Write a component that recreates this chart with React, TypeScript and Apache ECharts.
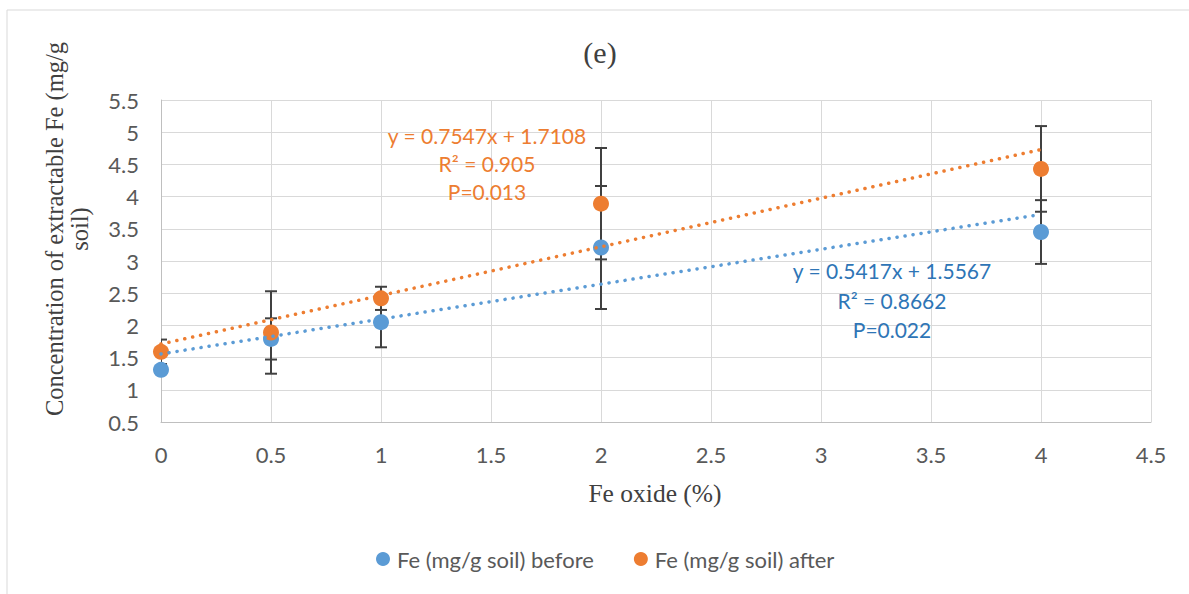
import React, { useEffect, useRef } from 'react';
import * as echarts from 'echarts';

// ---- data ----
const xValues = [0, 0.5, 1, 2, 4];
const beforeValues = [1.31, 1.79, 2.05, 3.21, 3.45];
const beforeErrors = [0.05, 0.32, 0.39, 0.955, 0.495];
const afterValues = [1.59, 1.89, 2.42, 3.89, 4.43];
const afterErrors = [0.19, 0.64, 0.18, 0.865, 0.665];
// trendline coefficients as printed on the chart
const beforeSlope = 0.5417;
const beforeIntercept = 1.5567;
const afterSlope = 0.7547;
const afterIntercept = 1.7108;
const trendRange = [0, 4];
const beforeLabel = ['y = 0.5417x + 1.5567', 'R² = 0.8662', 'P=0.022'];
const afterLabel = ['y = 0.7547x + 1.7108', 'R² = 0.905', 'P=0.013'];
const seriesNames = ['Fe (mg/g soil) before', 'Fe (mg/g soil) after'];

export default function App() {
  const ref = useRef<HTMLDivElement>(null);
  useEffect(() => {
    document.body.style.margin = '0';
    const chart = echarts.init(ref.current!, null, { renderer: 'svg' });
    const serif = '"Liberation Serif", "DejaVu Serif", serif';
    const sans = 'Lato, "Noto Sans", sans-serif';
    const blue = '#5B9BD5';
    const orange = '#ED7D31';
    const blueText = '#2E75B6';
    const grey = '#595959';

    const errData = (vals: number[], errs: number[]) =>
      xValues.map((x, i) => [x, vals[i] - errs[i], vals[i] + errs[i]]);

    const errSeries = (name: string, vals: number[], errs: number[]) => ({
      type: 'custom',
      name: name + ' err',
      clip: true,
      z: 1,
      encode: { x: 0, y: [1, 2] },
      data: errData(vals, errs),
      renderItem: (params: any, api: any) => {
        const x = api.value(0);
        const top = api.coord([x, api.value(2)]);
        const bot = api.coord([x, api.value(1)]);
        const hw = 6;
        const st = { stroke: '#404040', lineWidth: 2 };
        return {
          type: 'group',
          children: [
            { type: 'line', shape: { x1: top[0], y1: top[1], x2: bot[0], y2: bot[1] }, style: st },
            { type: 'line', shape: { x1: top[0] - hw, y1: top[1], x2: top[0] + hw, y2: top[1] }, style: st },
            { type: 'line', shape: { x1: bot[0] - hw, y1: bot[1], x2: bot[0] + hw, y2: bot[1] }, style: st },
          ],
        };
      },
    });

    const trend = (slope: number, intercept: number) =>
      trendRange.map((x) => [x, slope * x + intercept]);

    const option: any = {
      animation: false,
      backgroundColor: '#ffffff',
      grid: { left: 161, right: 38, top: 100, bottom: 172 },
      xAxis: {
        type: 'value',
        min: 0,
        max: 4.5,
        interval: 0.5,
        axisLine: { show: true, lineStyle: { color: '#bfbfbf', width: 1 } },
        axisTick: { show: false },
        axisLabel: { color: grey, fontFamily: sans, fontSize: 22, margin: 21 },
        splitLine: { show: true, lineStyle: { color: '#d9d9d9', width: 1 } },
      },
      yAxis: {
        type: 'value',
        min: 0.5,
        max: 5.5,
        interval: 0.5,
        axisLine: { show: true, lineStyle: { color: '#bfbfbf', width: 1 } },
        axisTick: { show: false },
        axisLabel: { color: grey, fontFamily: sans, fontSize: 22, margin: 22 },
        splitLine: { show: true, lineStyle: { color: '#d9d9d9', width: 1 } },
      },
      legend: {
        data: seriesNames,
        left: 371,
        top: 543,
        itemWidth: 14,
        itemHeight: 14,
        itemGap: 40,
        icon: 'circle',
        textStyle: { color: grey, fontFamily: sans, fontSize: 22, padding: [0, 0, 0, 2] },
      },
      graphic: [
        { type: 'rect', shape: { x: 7, y: 10, width: 1300, height: 700 }, style: { fill: 'none', stroke: '#d9d9d9', lineWidth: 1 }, silent: true, z: -10 },
        { type: 'text', x: 600, y: 52, style: { text: '(e)', fontFamily: serif, fontSize: 30, fill: '#404040', align: 'center', verticalAlign: 'middle' } },
        { type: 'text', x: 655, y: 493, style: { text: 'Fe oxide (%)', fontFamily: serif, fontSize: 25.5, fill: '#404040', align: 'center', verticalAlign: 'middle' } },
        { type: 'text', x: 67, y: 229, rotation: Math.PI / 2, style: { text: 'Concentration of extractable Fe (mg/g\nsoil)', fontFamily: serif, fontSize: 24.5, lineHeight: 25, fill: '#404040', align: 'center', verticalAlign: 'middle' } },
        { type: 'text', x: 487, y: 163, z: 10, style: { text: afterLabel.join('\n'), fontFamily: sans, fontSize: 21, lineHeight: 28, fill: orange, align: 'center', verticalAlign: 'middle' } },
        { type: 'text', x: 892, y: 300, z: 10, style: { text: beforeLabel.join('\n'), fontFamily: sans, fontSize: 21, lineHeight: 29.5, fill: blueText, align: 'center', verticalAlign: 'middle' } },
      ],
      series: [
        errSeries(seriesNames[0], beforeValues, beforeErrors),
        errSeries(seriesNames[1], afterValues, afterErrors),
        {
          type: 'scatter',
          name: seriesNames[0],
          z: 2,
          symbolSize: 16,
          itemStyle: { color: blue, opacity: 1 },
          data: xValues.map((x, i) => [x, beforeValues[i]]),
        },
        {
          type: 'scatter',
          name: seriesNames[1],
          z: 3,
          symbolSize: 16,
          itemStyle: { color: orange, opacity: 1 },
          data: xValues.map((x, i) => [x, afterValues[i]]),
        },
        {
          type: 'line',
          name: 'trend before',
          z: 4,
          symbol: 'none',
          lineStyle: { color: blue, width: 3.5, type: [0.1, 8], cap: 'round' },
          data: trend(beforeSlope, beforeIntercept),
        },
        {
          type: 'line',
          name: 'trend after',
          z: 4,
          symbol: 'none',
          lineStyle: { color: orange, width: 3.5, type: [0.1, 8], cap: 'round' },
          data: trend(afterSlope, afterIntercept),
        },
      ],
    };
    chart.setOption(option);
    return () => chart.dispose();
  }, []);
  return <div ref={ref} style={{ width: 1189, height: 594 }} />;
}
